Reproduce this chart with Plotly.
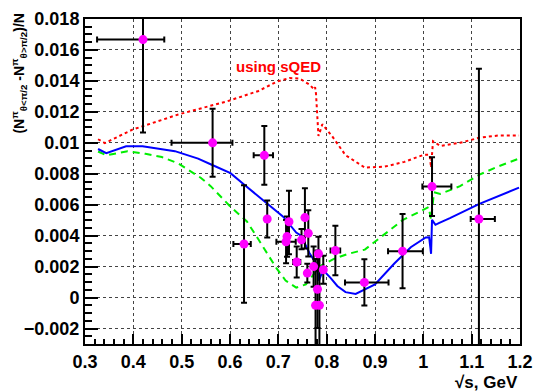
import plotly.graph_objects as go

# ---- data points (sqrt(s) GeV, asymmetry) ----
pt_x = [0.420, 0.564, 0.629, 0.671, 0.677, 0.716, 0.718, 0.722, 0.738, 0.748,
        0.755, 0.760, 0.762, 0.773, 0.777, 0.781, 0.783, 0.785, 0.793, 0.818,
        0.878, 0.957, 1.018, 1.115]
pt_y = [0.01667, 0.0100, 0.00346, 0.00919, 0.00508, 0.00361, 0.00394, 0.0049, 0.0023, 0.00373,
        0.00517, 0.00158, 0.00415, 0.0020, -0.0005, 0.00054, 0.00283, -0.0005, 0.0018, 0.00304,
        0.00098, 0.0030, 0.00717, 0.00508]
pt_exl = [0.095, 0.085, 0.022, 0.022, 0, 0.02, 0, 0, 0.0075, 0,
          0, 0, 0, 0, 0, 0, 0, 0, 0, 0.01,
          0.04, 0.03, 0.02, 0.017]
pt_exh = [0.044, 0.041, 0.014, 0.018, 0, 0.02, 0, 0, 0.0075, 0,
          0, 0, 0, 0, 0, 0, 0, 0, 0, 0.01,
          0.05, 0.042, 0.04, 0.033]
pt_eyl = [0.0060, 0.0022, 0.0038, 0.0019, 0.0012, 0.0014, 0.0013, 0.0021, 0.0010, 0.0006,
          0.0020, 0.0006, 0.0015, 0.0013, 0.0030, 0.0025, 0.0011, 0.0033, 0.0009, 0.0016,
          0.0015, 0.0024, 0.0019, 0.0097]
pt_eyh = [0.0060, 0.0022, 0.0038, 0.0019, 0.0012, 0.0014, 0.0013, 0.0020, 0.0010, 0.0007,
          0.0019, 0.0006, 0.0015, 0.0013, 0.0030, 0.0025, 0.0011, 0.0033, 0.0009, 0.0016,
          0.0015, 0.0024, 0.0019, 0.0097]

# ---- sQED curve (red, dotted) ----
red_x = [0.327, 0.341, 0.398, 0.493, 0.595, 0.659, 0.696, 0.723, 0.744, 0.764,
         0.774, 0.776, 0.778, 0.781, 0.783, 0.787, 0.791, 0.811, 0.835, 0.839,
         0.879, 0.92, 0.961, 1.001, 1.013, 1.016, 1.020, 1.035, 1.076, 1.116,
         1.157, 1.198]
red_y = [0.01023, 0.00998, 0.01085, 0.01183, 0.01269, 0.01335, 0.01394, 0.01419, 0.01415, 0.01377,
         0.01346, 0.01360, 0.01315, 0.0117, 0.01044, 0.0108, 0.0112, 0.01044, 0.0094, 0.0092,
         0.0084, 0.00846, 0.00877, 0.00923, 0.00923, 0.0084, 0.0101, 0.0098, 0.0100, 0.01033,
         0.01048, 0.01048]

# ---- green dashed curve ----
grn_x = [0.327, 0.344, 0.388, 0.425, 0.459, 0.493, 0.54, 0.56, 0.6, 0.635,
         0.66, 0.68, 0.696, 0.715, 0.737, 0.757, 0.778, 0.79, 0.815, 0.842,
         0.879, 0.92, 0.957, 1.011, 1.016, 1.022, 1.035, 1.076, 1.116, 1.157,
         1.198]
grn_y = [0.00944, 0.00919, 0.00946, 0.00929, 0.00908, 0.00867, 0.00773, 0.0072, 0.0059, 0.00492,
         0.0037, 0.0027, 0.0019, 0.0011, 0.00064, 0.00085, 0.0017, 0.0021, 0.0025, 0.0028,
         0.0031, 0.0041, 0.0050, 0.00585, 0.00502, 0.0068, 0.0067, 0.0072, 0.00794, 0.0085,
         0.00898]

# ---- blue solid curve ----
blu_x = [0.327, 0.344, 0.385, 0.419, 0.486, 0.534, 0.561, 0.601, 0.629, 0.669,
         0.71, 0.737, 0.747, 0.764, 0.778, 0.781, 0.784, 0.789, 0.795, 0.808,
         0.822, 0.839, 0.86, 0.9, 0.94, 0.974, 1.005, 1.012, 1.016, 1.018,
         1.025, 1.032, 1.055, 1.116, 1.198]
blu_y = [0.0096, 0.00933, 0.00977, 0.00977, 0.00946, 0.00898, 0.0086, 0.00804, 0.0073, 0.00627,
         0.00523, 0.0042, 0.0040, 0.0029, 0.0022, 0.0017, 0.0011, 0.0015, 0.0017, 0.00127,
         0.00075, 0.00035, 0.00023, 0.00085, 0.0022, 0.00325, 0.00388, 0.0039, 0.00283, 0.00502,
         0.0047, 0.00481, 0.00513, 0.00606, 0.0071]

x_ticks = [0.3, 0.4, 0.5, 0.6, 0.7, 0.8, 0.9, 1.0, 1.1, 1.2]
x_labels = ["0.3", "0.4", "0.5", "0.6", "0.7", "0.8", "0.9", "1", "1.1", "1.2"]
y_ticks = [-0.002, 0, 0.002, 0.004, 0.006, 0.008, 0.010, 0.012, 0.014, 0.016, 0.018]
y_labels = ["\u22120.002", "0", "0.002", "0.004", "0.006", "0.008", "0.01",
            "0.012", "0.014", "0.016", "0.018"]

FONT = "Liberation Sans, Arial, Helvetica, sans-serif"

fig = go.Figure()
fig.add_trace(go.Scatter(x=red_x, y=red_y, mode="lines",
                         line=dict(color="#ff0000", width=2, dash="3px,3px"),
                         showlegend=False, hoverinfo="skip"))
fig.add_trace(go.Scatter(x=grn_x, y=grn_y, mode="lines",
                         line=dict(color="#00ee00", width=2, dash="7px,5px"),
                         showlegend=False, hoverinfo="skip"))
fig.add_trace(go.Scatter(x=blu_x, y=blu_y, mode="lines",
                         line=dict(color="#0000ff", width=2),
                         showlegend=False, hoverinfo="skip"))
fig.add_trace(go.Scatter(
    x=pt_x, y=pt_y, mode="markers",
    marker=dict(color="#ff00ff", size=9, line=dict(width=0)),
    error_x=dict(type="data", symmetric=False, array=pt_exh, arrayminus=pt_exl,
                 color="black", thickness=2, width=3),
    error_y=dict(type="data", symmetric=False, array=pt_eyh, arrayminus=pt_eyl,
                 color="black", thickness=2, width=3),
    showlegend=False))

axis_common = dict(
    showline=True, linecolor="black", linewidth=2, mirror=True,
    showgrid=True, gridcolor="#444444", gridwidth=1, griddash="dot",
    zeroline=False, ticks="inside", tickcolor="black", tickwidth=1.5,
    tickfont=dict(family=FONT, size=18, color="black", weight="bold"),
)

fig.update_layout(
    width=542, height=392,
    margin=dict(l=85, r=15, t=9, b=48),
    plot_bgcolor="white", paper_bgcolor="white",
    xaxis=dict(range=[0.3, 1.2], tickmode="array", tickvals=x_ticks, ticktext=x_labels,
               ticklen=10,
               minor=dict(ticks="inside", ticklen=5, dtick=0.02, tick0=0.3,
                          tickcolor="black", tickwidth=1.5, showgrid=False),
               **axis_common),
    yaxis=dict(range=[-0.003, 0.018], tickmode="array", tickvals=y_ticks, ticktext=y_labels,
               ticklen=13,
               minor=dict(ticks="inside", ticklen=7, dtick=0.0005, tick0=0,
                          tickcolor="black", tickwidth=1.5, showgrid=False),
               **axis_common),
    annotations=[
        dict(text="using sQED", x=0.6994, y=0.01494, xref="x", yref="y",
             showarrow=False, font=dict(family=FONT, size=15, color="#ff0000", weight="bold")),
        dict(text="\u221As, GeV", x=1.0, y=-0.118, xref="paper", yref="paper",
             xanchor="right", yanchor="middle", showarrow=False,
             font=dict(family=FONT, size=17, color="black", weight="bold")),
        dict(text="(N<sup>\u03c0</sup><sub>\u03b8&lt;\u03c0/2</sub> -N<sup>\u03c0</sup><sub>\u03b8&gt;\u03c0/2</sub>)/N",
             x=-0.152, y=1.027, xref="paper", yref="paper", textangle=-90,
             xanchor="center", yanchor="top", showarrow=False,
             font=dict(family=FONT, size=14, color="black", weight="bold")),
    ],
)

fig.write_html("out.html")
